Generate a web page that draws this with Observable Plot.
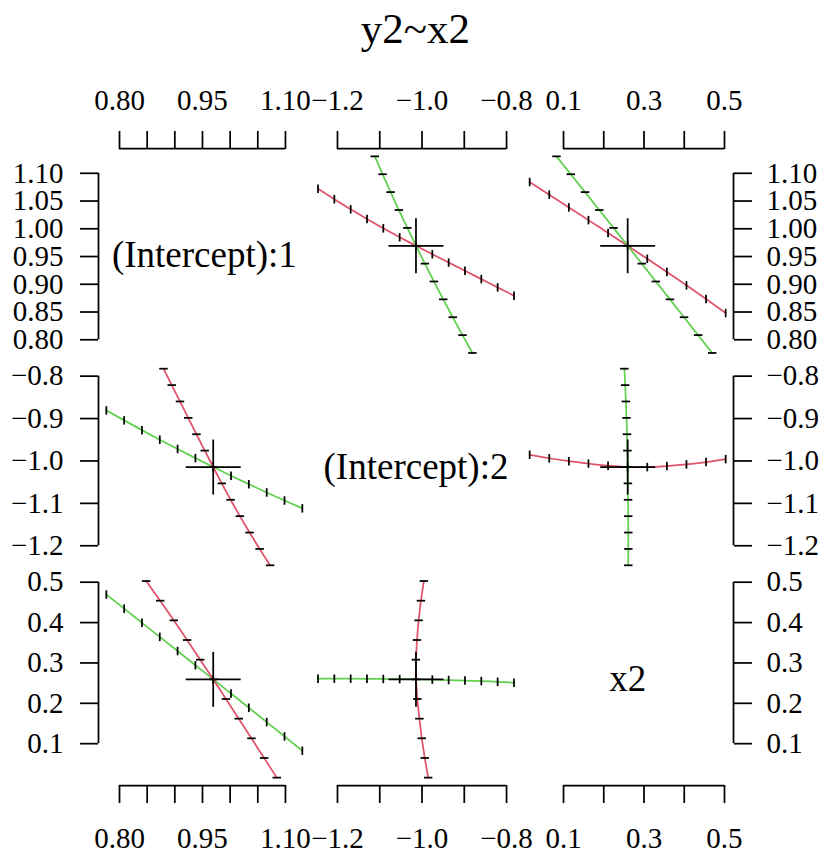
<!DOCTYPE html>
<html><head><meta charset="utf-8">
<script src="https://cdn.jsdelivr.net/npm/d3@7"></script>
<script src="https://cdn.jsdelivr.net/npm/@observablehq/plot@0.6"></script>
<style>
html,body{margin:0;padding:0;background:#fff;overflow:hidden}
#wrap{position:relative;width:823px;height:853px;font-family:"Liberation Serif","Times New Roman",Times,"Nimbus Roman","DejaVu Serif",serif;color:#000}
#title{position:absolute;left:0;width:831px;top:8px;text-align:center;font-size:43px;line-height:42px;}
#chart{position:absolute;left:0;top:70px;width:823px;height:783px;}
#chart svg{position:absolute;left:0;top:0;}
</style></head><body>
<div id="wrap"><div id="title">y2~x2</div><div id="chart"></div></div>
<script>
// ---- data ----
const paramNames = ["(Intercept):1", "(Intercept):2", "x2"];
const estimates = [0.9694, -1.0143, 0.2594];

// profile of (Intercept):1
const profInt1_int1 = [0.7762, 0.8084, 0.8406, 0.8728, 0.9050, 0.9372, 0.9694, 1.0016, 1.0338, 1.0661, 1.0983, 1.1305];
const profInt1_int2 = [-0.8808, -0.9043, -0.9273, -0.9498, -0.9718, -0.9933, -1.0143, -1.0348, -1.0548, -1.0743, -1.0933, -1.1118];
const profInt1_x2   = [0.4695, 0.4345, 0.3995, 0.3645, 0.3295, 0.2944, 0.2594, 0.2242, 0.1889, 0.1535, 0.1180, 0.0825];

// profile of (Intercept):2
const profInt2_int1 = [1.0723, 1.0533, 1.0351, 1.0176, 1.0008, 0.9848, 0.9694, 0.9541, 0.9391, 0.9242, 0.9093, 0.8944, 0.8795];
const profInt2_int2 = [-1.2461, -1.2075, -1.1688, -1.1302, -1.0916, -1.0529, -1.0143, -0.9756, -0.9370, -0.8984, -0.8597, -0.8211, -0.7824];
const profInt2_x2   = [0.2609, 0.2610, 0.2610, 0.2608, 0.2604, 0.2600, 0.2594, 0.2587, 0.2577, 0.2565, 0.2550, 0.2532, 0.2512];

// profile of x2
const profX2_int1 = [1.0843, 1.0615, 1.0385, 1.0156, 0.9925, 0.9694, 0.9459, 0.9222, 0.8981, 0.8735, 0.8482];
const profX2_int2 = [-0.9854, -0.9936, -1.0006, -1.0062, -1.0111, -1.0143, -1.0145, -1.0120, -1.0081, -1.0026, -0.9957];
const profX2_x2   = [0.0159, 0.0646, 0.1133, 0.1620, 0.2107, 0.2594, 0.3081, 0.3568, 0.4055, 0.4542, 0.5029];

// axis ticks and the tick labels R kept on the horizontal axes
const ticksInt1 = [0.80, 0.85, 0.90, 0.95, 1.00, 1.05, 1.10];
const ticksInt2 = [-1.2, -1.1, -1.0, -0.9, -0.8];
const ticksX2   = [0.1, 0.2, 0.3, 0.4, 0.5];
const xLabelsInt1 = [0.80, 0.95, 1.10];
const xLabelsInt2 = [-1.2, -1.0, -0.8];
const xLabelsX2   = [0.1, 0.3, 0.5];
const tickDecimals = [2, 1, 1];

const colours = ["#DF536B", "#61D04F"];

// ---- build ----
const profiles = [
  [profInt1_int1, profInt1_int2, profInt1_x2],
  [profInt2_int1, profInt2_int2, profInt2_x2],
  [profX2_int1, profX2_int2, profX2_x2]
];
const ticks = [ticksInt1, ticksInt2, ticksX2];
const xLabels = [xLabelsInt1, xLabelsInt2, xLabelsX2];

const W = 823, H = 783;
const colEdges = [98, 309.67, 521.33, 733];
const rowEdges = [78, 290.33, 502.67, 715];
const lw = 1.75;
const tickLen = 18;
const serif = "'Liberation Serif', 'Times New Roman', Times, 'Nimbus Roman', 'DejaVu Serif', serif";

const rng = [0, 1, 2].map(p => d3.extent(profiles.flatMap(pr => pr[p])));
const usr = rng.map(([a, b]) => [a - 0.04 * (b - a), b + 0.04 * (b - a)]);

const fmt = (d, p) => (d < 0 ? "\u2212" : "") + Math.abs(d).toFixed(tickDecimals[p]);
const has = (arr, d) => arr.some(v => Math.abs(v - d) < 1e-9);

const chart = document.getElementById("chart");
const n = 3;
for (let i = 0; i < n; i++) {
  for (let j = 0; j < n; j++) {
    const xd = usr[j], yd = usr[i];
    const marks = [];
    if (i === j) {
      marks.push(Plot.text([paramNames[i]], {frameAnchor: "middle", text: d => d, fontSize: 37, fontFamily: serif}));
    } else {
      const colA = i < j ? colours[0] : colours[1];
      const colB = i < j ? colours[1] : colours[0];
      const A = profiles[j][j].map((v, k) => ({x: v, y: profiles[j][i][k]}));
      const B = profiles[i][i].map((v, k) => ({x: profiles[i][j][k], y: v}));
      const sy = 0.02 * (yd[1] - yd[0]), sx = 0.02 * (xd[1] - xd[0]);
      marks.push(Plot.line(A, {x: "x", y: "y", stroke: colA, strokeWidth: lw, curve: "natural"}));
      marks.push(Plot.link(A, {x1: "x", x2: "x", y1: d => Math.max(yd[0], d.y - sy), y2: d => Math.min(yd[1], d.y + sy), stroke: "black", strokeWidth: lw}));
      marks.push(Plot.line(B, {x: "x", y: "y", stroke: colB, strokeWidth: lw}));
      marks.push(Plot.link(B, {y1: "y", y2: "y", x1: d => Math.max(xd[0], d.x - sx), x2: d => Math.min(xd[1], d.x + sx), stroke: "black", strokeWidth: lw}));
      const cx = 27.5 / 211.67 * (xd[1] - xd[0]);
      const cy = 27.5 / 212.33 * (yd[1] - yd[0]);
      const est = [{x: estimates[j], y: estimates[i]}];
      marks.push(Plot.link(est, {x1: d => d.x - cx, x2: d => d.x + cx, y1: "y", y2: "y", stroke: "black", strokeWidth: lw}));
      marks.push(Plot.link(est, {x1: "x", x2: "x", y1: d => d.y - cy, y2: d => d.y + cy, stroke: "black", strokeWidth: lw}));
    }
    const tx = ticks[j], ty = ticks[i];
    if (i === 0) {
      marks.push(Plot.axisX({ticks: tx, anchor: "top", tickSize: tickLen, tickPadding: 21, strokeWidth: lw, label: null, fontFamily: serif,
        tickFormat: d => has(xLabels[j], d) ? fmt(d, j) : ""}));
      marks.push(Plot.ruleY([yd[1]], {x1: () => tx[0], x2: () => tx[tx.length - 1], stroke: "black", strokeWidth: lw}));
    }
    if (i === n - 1) {
      marks.push(Plot.axisX({ticks: tx, anchor: "bottom", tickSize: tickLen, tickPadding: 24, strokeWidth: lw, label: null, fontFamily: serif,
        tickFormat: d => has(xLabels[j], d) ? fmt(d, j) : ""}));
      marks.push(Plot.ruleY([yd[0]], {x1: () => tx[0], x2: () => tx[tx.length - 1], stroke: "black", strokeWidth: lw}));
    }
    if (j === 0) {
      marks.push(Plot.axisY({ticks: ty, anchor: "left", tickSize: tickLen, tickPadding: 17, strokeWidth: lw, label: null, fontFamily: serif,
        tickFormat: d => fmt(d, i)}));
      marks.push(Plot.ruleX([xd[0]], {y1: () => ty[0], y2: () => ty[ty.length - 1], stroke: "black", strokeWidth: lw}));
    }
    if (j === n - 1) {
      marks.push(Plot.axisY({ticks: ty, anchor: "right", tickSize: tickLen, tickPadding: 15, strokeWidth: lw, label: null, fontFamily: serif,
        tickFormat: d => fmt(d, i)}));
      marks.push(Plot.ruleX([xd[1]], {y1: () => ty[0], y2: () => ty[ty.length - 1], stroke: "black", strokeWidth: lw}));
    }
    const svg = Plot.plot({
      width: W, height: H,
      marginLeft: colEdges[j], marginRight: W - colEdges[j + 1],
      marginTop: rowEdges[i], marginBottom: H - rowEdges[i + 1],
      x: {domain: xd, axis: null},
      y: {domain: yd, axis: null},
      style: {background: "transparent", overflow: "visible", fontFamily: serif, fontSize: "29px", color: "black"},
      marks
    });
    chart.appendChild(svg);
  }
}
</script>
</body></html>
